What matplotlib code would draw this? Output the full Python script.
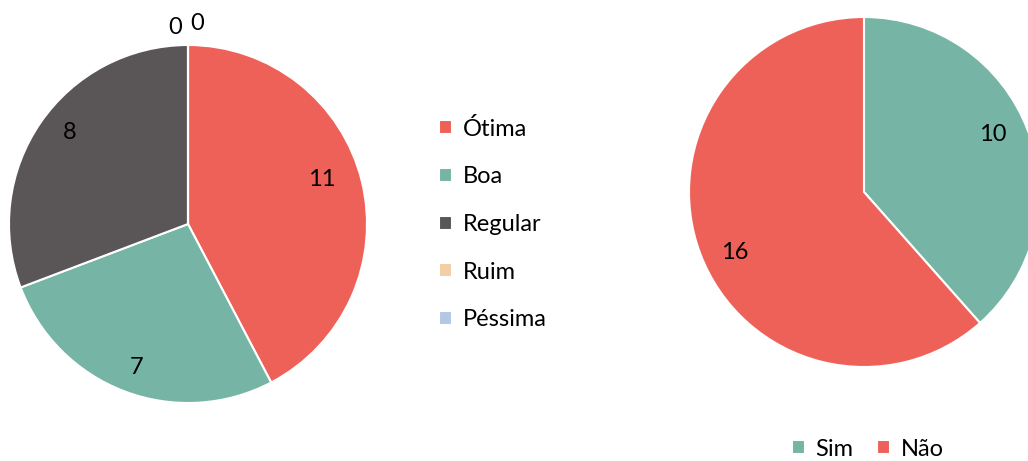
import matplotlib.pyplot as plt

plt.rcParams['font.family'] = ['Lato', 'DejaVu Sans']

# dados
qualidade = ['Ótima', 'Boa', 'Regular', 'Ruim', 'Péssima']
qtd_qualidade = [11, 7, 8, 0, 0]
cores_qualidade = ['#EE6159', '#76B5A5', '#5A5657', '#F2CFA4', '#B4C7E7']

resposta = ['Sim', 'Não']
qtd_resposta = [10, 16]
cores_resposta = ['#76B5A5', '#EE6159']

# posição dos rótulos (em raios, relativo ao centro)
pos_rotulos1 = [(0.75, 0.25), (-0.285, -0.80), (-0.66, 0.51), (-0.07, 1.10), (0.05, 1.12)]
pos_rotulos2 = [(0.737, 0.331), (-0.737, -0.343)]

W, H = 1028, 461
fs = 17
fig = plt.figure(figsize=(W / 100, H / 100), dpi=100)


def eixo(cx, cy, r):
    return fig.add_axes([(cx - r) / W, (H - cy - r) / H, 2 * r / W, 2 * r / H])


# pizza da esquerda
ax1 = eixo(188, 224, 179)
fatias1, textos1 = ax1.pie(qtd_qualidade, labels=[str(v) for v in qtd_qualidade],
                           colors=cores_qualidade, startangle=90, counterclock=False,
                           labeldistance=0.8, radius=1,
                           wedgeprops=dict(edgecolor='white', linewidth=1.5),
                           textprops=dict(fontsize=fs, color='black', ha='center', va='center'))
for t, p in zip(textos1, pos_rotulos1):
    t.set_position(p)
ax1.set_xlim(-1, 1)
ax1.set_ylim(-1, 1)
ax1.axis('off')

fig.legend(fatias1, qualidade, loc='center left', bbox_to_anchor=(418 / W, 1 - 224 / H),
           frameon=False, fontsize=fs, handlelength=0.55, handleheight=0.55,
           handletextpad=0.45, labelspacing=1.13)

# pizza da direita
ax2 = eixo(864, 192, 175)
fatias2, textos2 = ax2.pie(qtd_resposta, labels=[str(v) for v in qtd_resposta],
                           colors=cores_resposta, startangle=90, counterclock=False,
                           labeldistance=0.81, radius=1,
                           wedgeprops=dict(edgecolor='white', linewidth=1.5),
                           textprops=dict(fontsize=fs, color='black', ha='center', va='center'))
for t, p in zip(textos2, pos_rotulos2):
    t.set_position(p)
ax2.set_xlim(-1, 1)
ax2.set_ylim(-1, 1)
ax2.axis('off')

fig.legend(fatias2, resposta, loc='center', bbox_to_anchor=(868 / W, 1 - 449 / H),
           ncol=2, frameon=False, fontsize=fs, handlelength=0.55, handleheight=0.55,
           handletextpad=0.45, columnspacing=1.0)

fig.savefig('out.png', dpi=100)
